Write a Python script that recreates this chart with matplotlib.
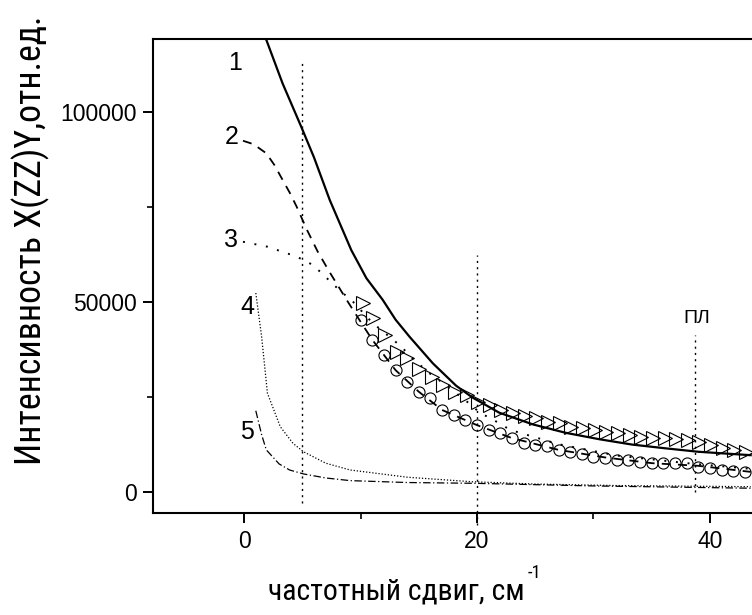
import matplotlib.pyplot as plt
from matplotlib import font_manager

plt.rcParams['font.family'] = ['Liberation Sans', 'DejaVu Sans']

# curve 1 (solid)
x1 = [1.9, 3.3, 4.9, 6.0, 7.35, 9.2, 10.5, 11.9, 13.0, 14.2, 16.2, 18.2, 19.6, 21.9, 24.8,
      27.6, 30.5, 33.3, 36.2, 39.0, 43.5]
y1 = [119000, 107500, 96100, 88000, 76800, 63600, 56200, 50500, 45300, 40800, 33800, 27900,
      24800, 20800, 17700, 15500, 13800, 12400, 11400, 10500, 9600]

# curve 2 (dashed)
x2 = [-0.1, 0.8, 1.9, 2.6, 3.3, 3.9, 4.5, 5.4, 6.3, 7.3, 8.8, 9.9, 11.0, 13.0, 15.0, 17.0,
      20.0, 23.0, 27.0, 31.0, 35.0, 39.0, 43.5]
y2 = [92400, 91500, 89100, 86000, 82100, 78800, 75100, 68900, 63300, 58000, 50500, 45200,
      40000, 32000, 26300, 21500, 17500, 14100, 11000, 9000, 7500, 6800, 5200]

# curve 3 (dotted)
x3 = [-0.1, 2.0, 4.5, 5.9, 6.8, 8.3, 9.2, 11.0, 13.5, 14.3, 16.1, 16.9, 17.8, 18.6, 19.5,
      20.3, 21.2, 22.1, 22.9, 27.0, 32.0, 38.0, 43.5]
y3 = [65800, 64500, 61900, 59700, 57100, 52700, 50500, 44500, 38200, 35500, 30700, 29000,
      26800, 25000, 22800, 20600, 19300, 17600, 16200, 12500, 9500, 7500, 6000]

# curve 4 (fine dotted)
x4 = [1.0, 1.5, 2.0, 3.1, 4.2, 5.1, 7.0, 9.1, 14.0, 19.6, 25.0, 32.0, 43.5]
y4 = [52300, 40800, 25900, 17100, 12700, 10500, 7500, 5700, 3800, 2600, 2000, 1600, 1300]

# curve 5 (dash-dot)
x5 = [1.0, 1.5, 1.9, 3.0, 3.9, 5.1, 7.0, 9.1, 14.0, 19.6, 30.0, 43.5]
y5 = [21300, 15000, 11000, 7300, 5700, 4660, 3600, 2900, 2400, 2200, 1500, 900]

# open circles
xc = [10, 11, 12, 13, 14, 15, 16, 17, 18, 19, 20, 21, 22, 23, 24, 25, 26, 27, 28, 29, 30,
      31, 32, 33, 34, 35, 36, 37, 38, 39, 40, 41, 42, 43]
yc = [45200, 40000, 36000, 32000, 29000, 26300, 24600, 21500, 20200, 18900, 17600, 16200,
      15400, 14100, 12800, 12300, 11900, 11000, 10500, 9900, 9200, 8800, 8200, 8200, 7900,
      7500, 7500, 7500, 7600, 6600, 6200, 5700, 5500, 5300]

# open triangles
xt = [10.2, 11.1, 12.1, 13.1, 14.0, 15.0, 16.1, 17.1, 18.1, 19.1, 20.1, 21.1, 22.1, 23.1,
      24.1, 25.1, 26.1, 27.1, 28.1, 29.1, 30.1, 31.1, 32.1, 33.1, 34.1, 35.1, 36.1, 37.1,
      38.1, 39.1, 40.1, 41.1, 42.1, 43.1]
yt = [49600, 45700, 41300, 36900, 35100, 32200, 30300, 28100, 26300, 25500, 23700, 22800,
      21500, 20600, 19800, 19300, 18400, 18000, 17100, 16700, 16300, 15800, 15400, 14900,
      14500, 14100, 14100, 13800, 13600, 13200, 12300, 11400, 11000, 10500]

curve_labels = ['1', '2', '3', '4', '5']
label_x = [-0.8, -1.1, -1.1, 0.3, 0.2]
label_y = [112800, 93400, 66300, 48700, 15800]

# a narrow face for the axis titles, if one is installed
names = {f.name for f in font_manager.fontManager.ttflist}
narrow = ['Liberation Sans Narrow', 'Arial Narrow', 'Roboto Condensed', 'PT Sans Narrow',
          'Fira Sans Condensed', 'IBM Plex Sans Condensed', 'Open Sans Condensed']
title_font = [n for n in narrow if n in names][:1] + ['Liberation Sans', 'DejaVu Sans']

fig = plt.figure(figsize=(7.52, 6.15), dpi=100)
ax = fig.add_axes([0.2039, 0.1654, 0.895, 0.7712])

ax.plot(x1, y1, color='black', lw=1.6)
ax.plot(x2, y2, color='black', lw=1.3, ls=(0, (5, 4)))
ax.plot(x3, y3, color='black', lw=1.4, ls=(0, (1, 5)))
ax.plot(x4, y4, color='black', lw=0.9, ls=(0, (1, 1.5)))
ax.plot(x5, y5, color='black', lw=0.9, ls=(0, (6, 2, 1, 2)))
ax.plot(xc, yc, 'o', ms=8, mfc='none', mec='black', mew=0.8)
ax.plot(xt, yt, '>', ms=10, mfc='none', mec='black', mew=0.8)

# vertical dotted markers
ax.plot([5, 5], [-3000, 112800], color='black', lw=1.0, ls=(0, (1.5, 3)))
ax.plot([20, 20], [-8800, 62300], color='black', lw=1.0, ls=(0, (1.5, 3)), clip_on=False)
ax.plot([38.7, 38.7], [0, 41300], color='black', lw=1.0, ls=(0, (1.5, 3)))
ax.text(38.9, 45700, 'ПЛ', fontsize=14, ha='center', va='center')

for lab, lx, ly in zip(curve_labels, label_x, label_y):
    ax.text(lx, ly, lab, fontsize=18, ha='center', va='center')

ax.set_xlim(-7.8, 50)
ax.set_ylim(-5700, 119200)
ax.set_xticks([0, 20, 40])
ax.set_xticks([10, 30, 50], minor=True)
ax.set_yticks([0, 50000, 100000])
ax.set_yticks([25000, 75000], minor=True)
ax.tick_params(which='major', direction='out', length=7, width=1.4, labelsize=16.5, pad=5)
ax.tick_params(which='minor', direction='out', length=4, width=1.2)
for s in ax.spines.values():
    s.set_linewidth(1.5)

ylab = fig.text(31 / 752, 1 - 240 / 615, 'Интенсивность X(ZZ)Y,отн.ед.', rotation=90,
                fontsize=24, family=title_font, ha='center', va='center')
xlab = fig.text(268 / 752, 15 / 615, 'частотный сдвиг, см', fontsize=20, family=title_font,
                ha='left', va='baseline')

# size the axis titles to the length they have in the original
r = fig.canvas.get_renderer()
ylab.set_fontsize(24 * 450 / ylab.get_window_extent(r).height)
xlab.set_fontsize(20 * 257 / xlab.get_window_extent(r).width)
xr = xlab.get_window_extent(r).x1
fig.text((xr + 3) / 752, 37 / 615, '-1', fontsize=xlab.get_fontsize() * 0.62,
         family=title_font, ha='left', va='baseline')

fig.savefig('out.png', dpi=100)
